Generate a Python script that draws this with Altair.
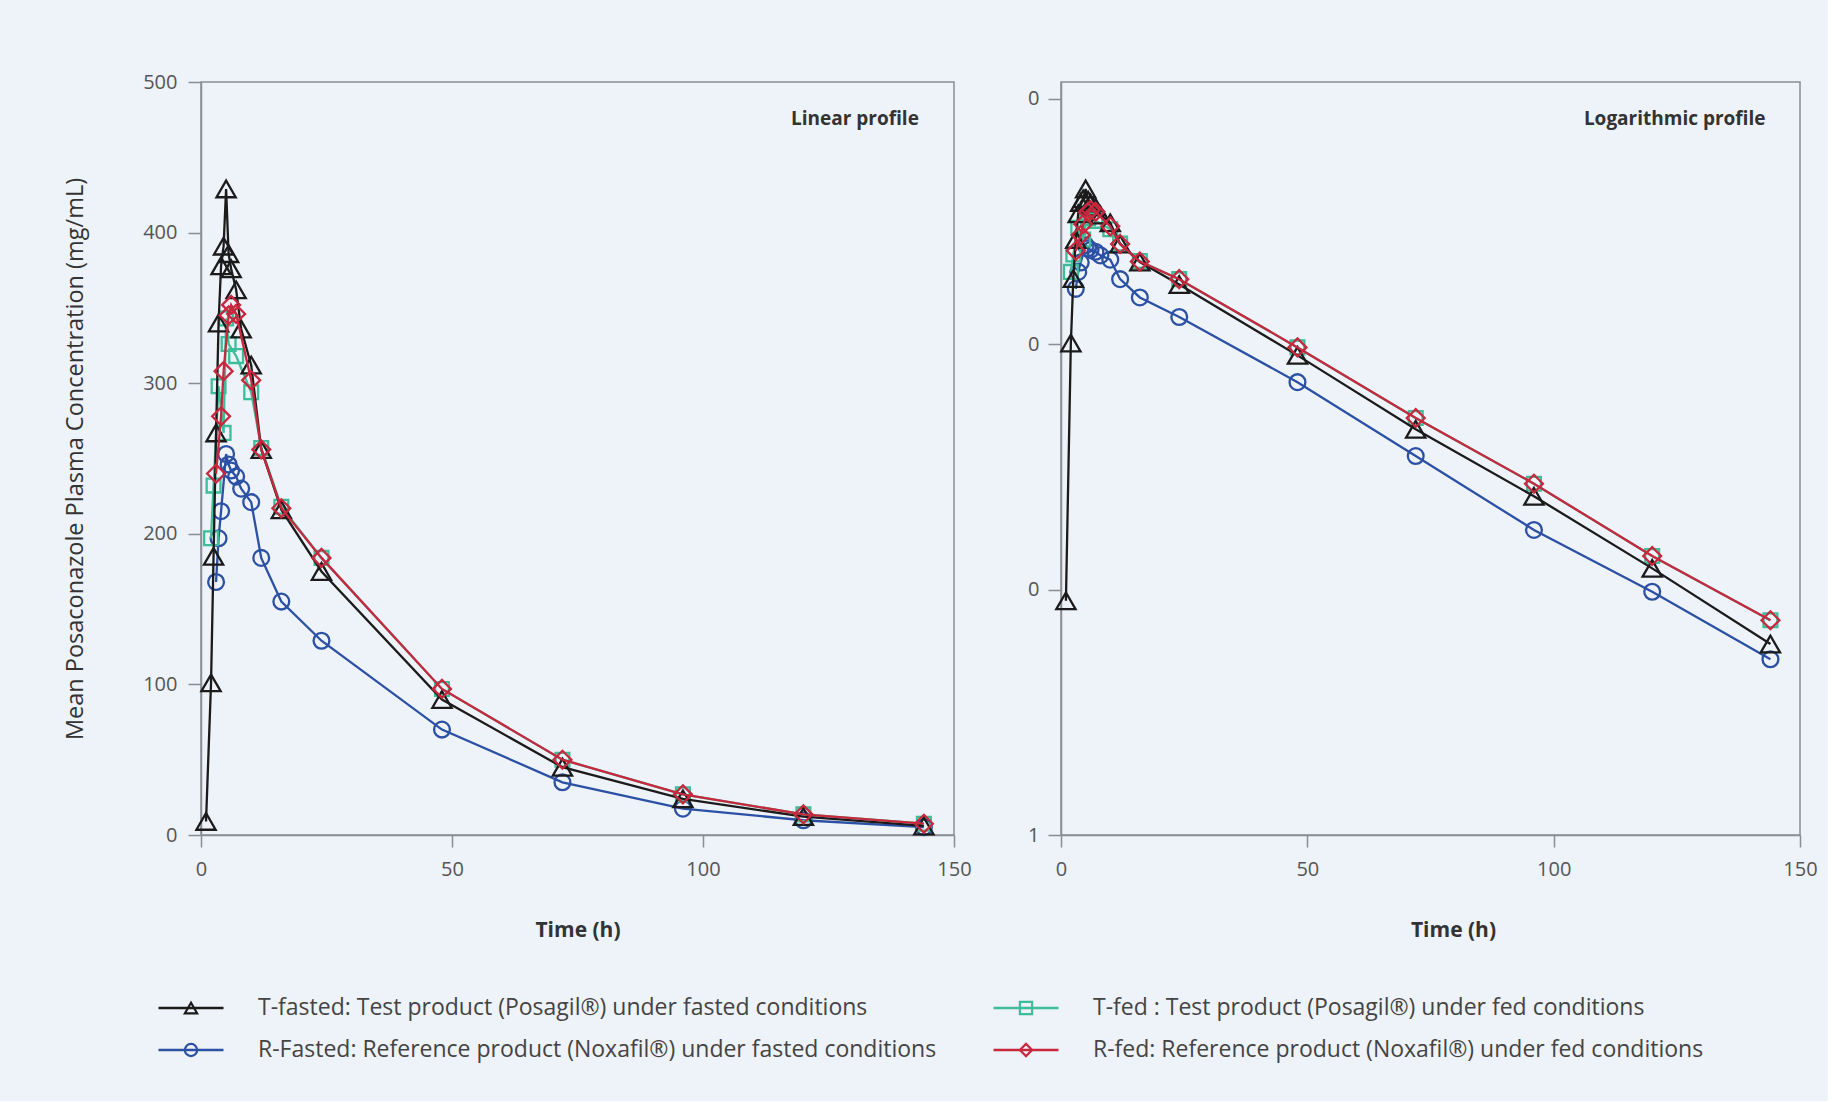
import altair as alt
import pandas as pd

# ---------------- data ----------------
t_fasted_time = [1, 2, 2.5, 3, 3.5, 4, 4.5, 5, 5.5, 6, 7, 8, 10, 12, 16, 24, 48, 72, 96, 120, 144]
t_fasted_conc = [9, 101, 185, 267, 340, 378, 391, 429, 386, 376, 362, 336, 312, 256, 216, 175, 90, 45, 24, 12.2, 6.0]

r_fasted_time = [3, 3.5, 4, 5, 5.5, 6, 7, 8, 10, 12, 16, 24, 48, 72, 96, 120, 144]
r_fasted_conc = [168, 197, 215, 253, 246, 242, 238, 230, 221, 184, 155, 129, 70, 35, 17.5, 9.8, 5.2]

t_fed_time = [2, 2.5, 3.5, 4.5, 5, 5.5, 7, 10, 12, 16, 24, 48, 72, 96, 120, 144]
t_fed_conc = [197, 232, 298, 267, 343, 326, 318, 294, 257, 218, 184, 97, 50, 27, 13.7, 7.5]

r_fed_time = [3, 4, 4.5, 5.5, 6, 7, 10, 12, 16, 24, 48, 72, 96, 120, 144]
r_fed_conc = [240, 278, 308, 345, 352, 346, 302, 256, 217, 184, 97, 50, 27, 13.7, 7.5]

series_keys = ["T-fasted", "R-Fasted", "T-fed", "R-fed"]
series_labels = [
    "T-fasted: Test product (Posagil®) under fasted conditions",
    "R-Fasted: Reference product (Noxafil®) under fasted conditions",
    "T-fed : Test product (Posagil®) under fed conditions",
    "R-fed: Reference product (Noxafil®) under fed conditions",
]
series_colors = ["#1b1b1b", "#2b50a4", "#3dbd98", "#c8283e"]
series_shapes = ["triangle-up", "circle", "square", "diamond"]
series_sizes = [370, 250, 190, 320]
legend_col = [0, 0, 1, 1]
legend_row = [0, 1, 0, 1]

x_ticks = [0, 50, 100, 150]
lin_ticks = [0, 100, 200, 300, 400, 500]
log_ticks = [1, 10, 100, 1000]

panel_titles = ["Linear profile", "Logarithmic profile"]
title_time = [143, 143]          # where the panel captions sit, in hours
title_conc = [475.5, 830]        # and in concentration units

series_data = {
    "T-fasted": (t_fasted_time, t_fasted_conc),
    "R-Fasted": (r_fasted_time, r_fasted_conc),
    "T-fed": (t_fed_time, t_fed_conc),
    "R-fed": (r_fed_time, r_fed_conc),
}
draw_order = ["R-Fasted", "T-fed", "T-fasted", "R-fed"]

FONT = "Open Sans"
BG = "#eef2f9"
AX = "#8a8d93"


def panel(log):
    if log:
        yscale = alt.Scale(type="log", domain=[1, 1170], nice=False)
        yaxis = alt.Axis(values=log_ticks, labelExpr="datum.value >= 10 ? '0' : '1'",
                         title=None, tickSize=13, labelPadding=9, grid=False)
        xaxis = alt.Axis(values=x_ticks, title="Time (h)", tickSize=12, labelPadding=12,
                         labelFlush=False, titlePadding=40, titleX=392, grid=False)
        k = 1
    else:
        yscale = alt.Scale(domain=[0, 500], nice=False)
        yaxis = alt.Axis(values=lin_ticks, title="Mean Posaconazole Plasma Concentration (mg/mL)",
                         tickSize=13, labelPadding=11, titlePadding=55, grid=False)
        xaxis = alt.Axis(values=x_ticks, title="Time (h)", tickSize=12, labelPadding=12,
                         labelFlush=False, titlePadding=40, grid=False)
        k = 0
    xscale = alt.Scale(domain=[0, 150], nice=False)
    layers = []
    for key in draw_order:
        i = series_keys.index(key)
        tt, cc = series_data[key]
        df = pd.DataFrame({"time": tt, "conc": cc})
        base = alt.Chart(df).encode(
            x=alt.X("time:Q", scale=xscale, axis=xaxis),
            y=alt.Y("conc:Q", scale=yscale, axis=yaxis),
        )
        layers.append(base.mark_line(color=series_colors[i], strokeWidth=2.3))
        layers.append(base.mark_point(shape=series_shapes[i], color=series_colors[i],
                                      filled=False, size=series_sizes[i], strokeWidth=2.3,
                                      opacity=1))
    ann_df = pd.DataFrame({"label": [panel_titles[k]], "time": [title_time[k]],
                           "conc": [title_conc[k]]})
    text = alt.Chart(ann_df).mark_text(
        align="right", baseline="middle", font=FONT, fontSize=19, fontWeight="bold",
        color="#333333"
    ).encode(x=alt.X("time:Q", scale=xscale, axis=xaxis),
             y=alt.Y("conc:Q", scale=yscale, axis=yaxis), text="label:N")
    layers.append(text)
    return alt.layer(*layers).properties(width=753 if not log else 739, height=753)


# ---------------- manual legend (drawn below the left panel) ----------------
leg_df = pd.DataFrame({
    "key": series_keys,
    "label": series_labels,
    "col": legend_col,
    "row": legend_row,
})
lx = alt.X("col:Q", scale=alt.Scale(domain=[0, 1], range=[0, 835]), axis=None)
ly = alt.Y("row:Q", scale=alt.Scale(domain=[0, 1], range=[926, 968]), axis=None)
color_enc = alt.Color("key:N", scale=alt.Scale(domain=series_keys, range=series_colors), legend=None)
shape_enc = alt.Shape("key:N", scale=alt.Scale(domain=series_keys, range=series_shapes), legend=None)

leg_base = alt.Chart(leg_df).encode(x=lx, y=ly)
leg_line = leg_base.mark_point(shape="M-1,0L1,0", size=4225, filled=False, strokeWidth=2.5,
                               xOffset=-10, opacity=1).encode(color=color_enc)
leg_mark = leg_base.mark_point(size=150, filled=False, strokeWidth=2.2, xOffset=-10,
                               opacity=1).encode(color=color_enc, shape=shape_enc)
leg_text = leg_base.mark_text(align="left", baseline="middle", dx=57, font=FONT,
                              fontSize=23, color="#444444").encode(text="label:N")
legend = alt.layer(leg_line, leg_mark, leg_text)

left = alt.layer(panel(False), legend).resolve_scale(
    x="independent", y="independent"
)
right = panel(True)

chart = alt.hconcat(left, right, spacing=107, bounds="flush").properties(
    background=BG,
    padding={"left": 62, "top": 71, "right": 10, "bottom": 38},
).configure_view(
    stroke=AX, strokeWidth=1.5
).configure_axis(
    domainColor=AX, domainWidth=1.5, tickColor=AX, tickWidth=1.5,
    labelFont=FONT, labelFontSize=20, labelColor="#555555",
    titleFont=FONT, titleColor="#333333",
).configure_axisX(
    titleFontSize=21, titleFontWeight="bold"
).configure_axisY(
    titleFontSize=23.5, titleFontWeight="normal"
)

chart.save("out.html", embed_options={"renderer": "svg", "actions": False})
